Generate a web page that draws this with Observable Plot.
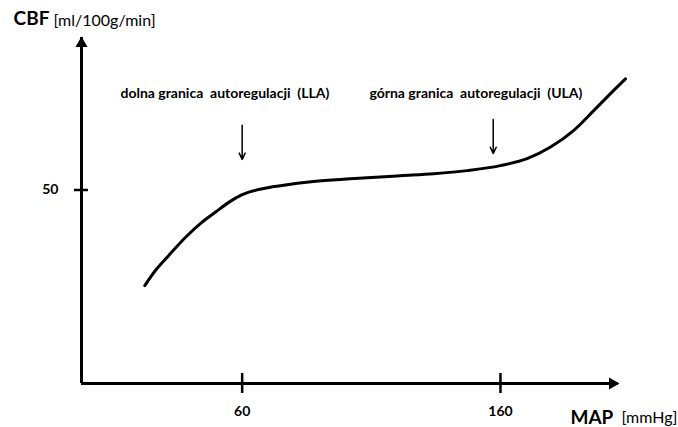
<!DOCTYPE html>
<html>
<head>
<meta charset="utf-8">
<script src="https://cdn.jsdelivr.net/npm/d3@7"></script>
<script src="https://cdn.jsdelivr.net/npm/@observablehq/plot@0.6"></script>
<style>
  html, body { margin: 0; padding: 0; background: #fff; }
</style>
</head>
<body>
<div id="chart"></div>
<script>
// Curve: MAP (mmHg) vs CBF (ml/100g/min)
const mapX = [22.3, 26.4, 31.6, 38.1, 44.5, 49.7, 54.8, 60.0, 68.4, 74.8, 87.6, 101.9, 121.3, 134.2, 147.1, 160.0, 170.3, 179.4, 188.4, 196.1, 202.6, 208.4];
const cbfY = [25.3, 29.2, 33.1, 37.8, 41.7, 44.3, 46.8, 48.8, 50.4, 51.1, 52.2, 52.9, 53.7, 54.2, 55.0, 56.3, 58.1, 61.1, 65.4, 70.5, 74.9, 78.7];

// Axis ticks
const xTicks = [60, 160];
const yTicks = [50];

// Axis extents
const xStart = -2.2, xEnd = 205.7;
const yStart = 0, yEnd = 89.4;

// Annotations: autoregulation limits
const limitLabels = ["dolna\u00a0granica\u00a0\u00a0autoregulacji\u00a0\u00a0(LLA)", "górna\u00a0granica\u00a0\u00a0autoregulacji\u00a0\u00a0(ULA)"];
const limitLabelX = [53.3, 150.5];
const limitLabelY = [74.9, 74.9];
const limitX = [60, 157.2];
const arrowTop = [66.7, 68.2];
const arrowTip = [57.9, 59.4];

const curve = mapX.map((x, i) => ({x, y: cbfY[i]}));
const limits = limitX.map((x, i) => ({x, top: arrowTop[i], tip: arrowTip[i], label: limitLabels[i], lx: limitLabelX[i], ly: limitLabelY[i]}));

const chart = Plot.plot({
  width: 678,
  height: 427,
  marginLeft: 81,
  marginRight: 60,
  marginTop: 37,
  marginBottom: 44,
  x: {domain: [xStart, xEnd], axis: null},
  y: {domain: [yStart, yEnd], axis: null},
  style: {fontFamily: "Lato, sans-serif", background: "#fff", overflow: "visible", color: "#000"},
  marks: [
    // axis lines
    Plot.ruleY([yStart], {x1: xStart, x2: xEnd, strokeWidth: 3}),
    Plot.ruleX([xStart], {y1: yStart, y2: yEnd, strokeWidth: 3}),
    Plot.dot([{x: xEnd, y: yStart}], {x: "x", y: "y", symbol: "triangle", rotate: 90, r: 4.5, fill: "#000", stroke: "none", dx: -6}),
    Plot.dot([{x: xStart, y: yEnd}], {x: "x", y: "y", symbol: "triangle", r: 4.5, fill: "#000", stroke: "none", dy: 6}),
    // ticks
    Plot.axisX(xTicks, {anchor: "bottom", tickSize: 10, tickPadding: 13, fontSize: 14, fontWeight: "bold", strokeWidth: 2.5, label: null}),
    Plot.axisX(xTicks, {anchor: "bottom", tickSize: -10, tickFormat: () => "", strokeWidth: 2.5, label: null}),
    Plot.axisY(yTicks, {anchor: "left", tickSize: 7, tickPadding: 16, fontSize: 14, fontWeight: "bold", strokeWidth: 2.5, label: null}),
    Plot.axisY(yTicks, {anchor: "left", tickSize: -7, tickFormat: () => "", strokeWidth: 2.5, label: null}),
    // curve
    Plot.line(curve, {x: "x", y: "y", curve: "monotone-x", stroke: "#000", strokeWidth: 3}),
    // limit arrows and labels
    Plot.arrow(limits, {x1: "x", x2: "x", y1: "top", y2: "tip", stroke: "#000", strokeWidth: 1.5, headLength: 7, headAngle: 50}),
    Plot.text(limits, {x: "lx", y: "ly", text: "label", fontSize: 14, fontWeight: "bold", fill: "#000", textAnchor: "middle"}),
    // axis titles
    Plot.text(["CBF"], {x: -28.5, y: 94.1, text: d => d, fontSize: 19, fontWeight: "bold", textAnchor: "start", fill: "#000"}),
    Plot.text(["[ml/100g/min]"], {x: -13.0, y: 93.6, text: d => d, fontSize: 16, fontWeight: "normal", textAnchor: "start", fill: "#000"}),
    Plot.text(["MAP"], {x: 187.1, y: -8.8, text: d => d, fontSize: 19, fontWeight: "bold", textAnchor: "start", fill: "#000"}),
    Plot.text(["[mmHg]"], {x: 206.9, y: -8.8, text: d => d, fontSize: 16, fontWeight: "normal", textAnchor: "start", fill: "#000"})
  ]
});
document.getElementById("chart").appendChild(chart);
</script>
</body>
</html>
